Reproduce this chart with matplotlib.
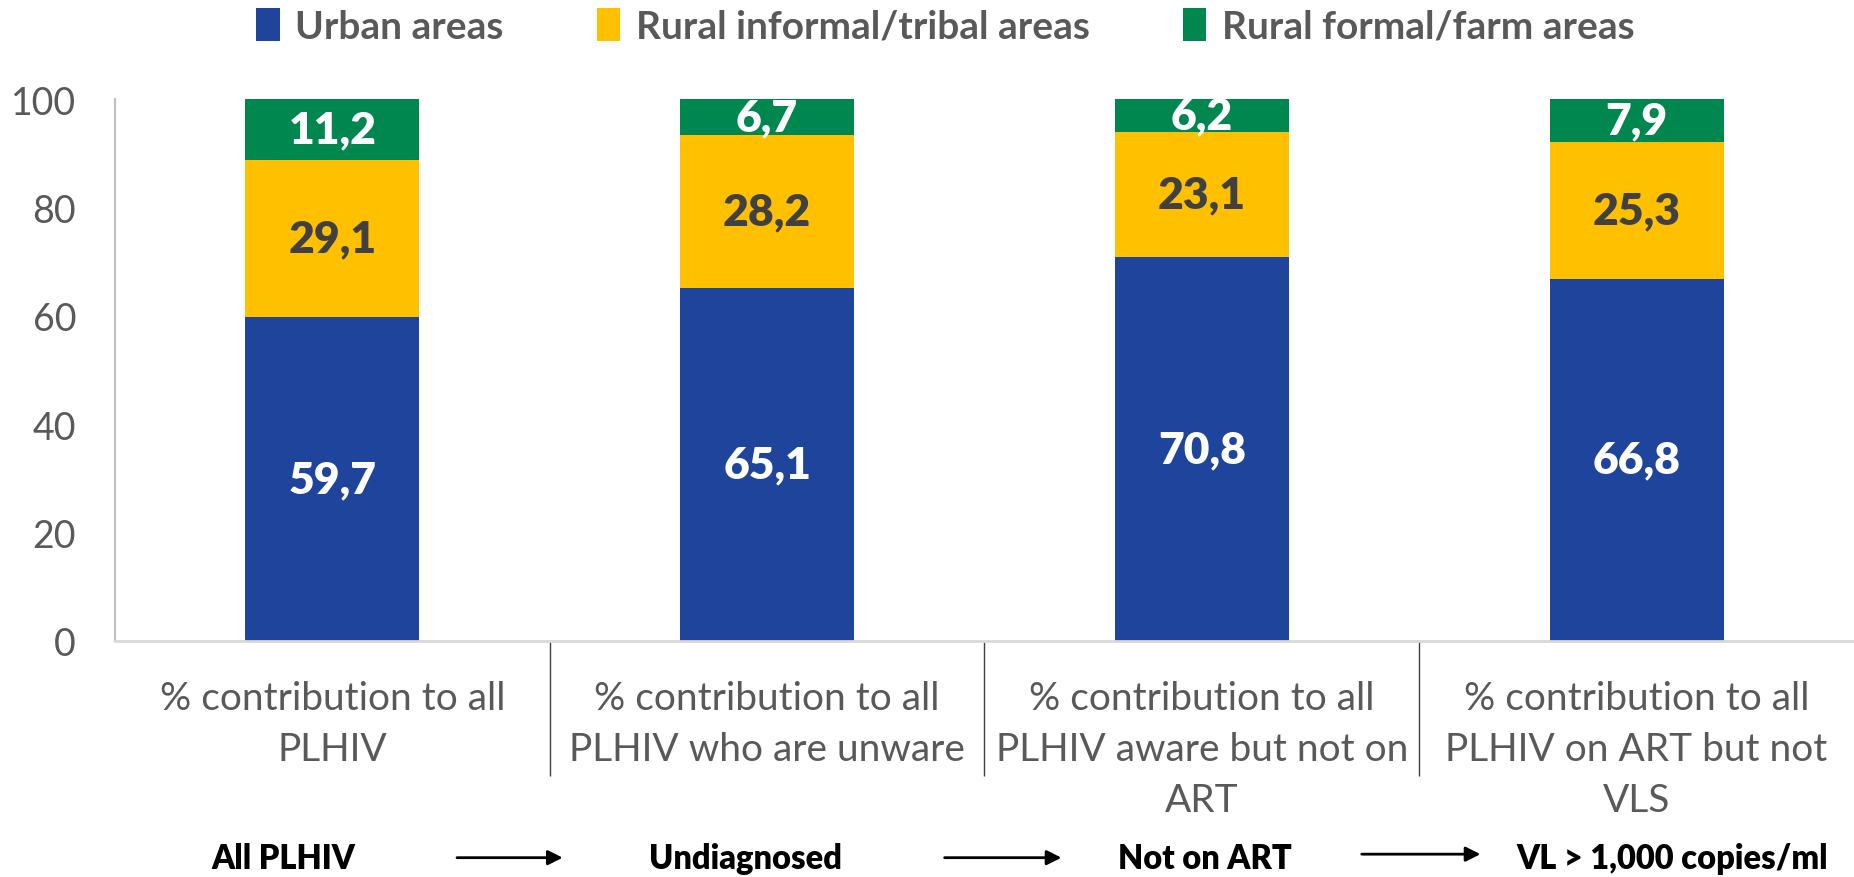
import numpy as np
import matplotlib.pyplot as plt
from matplotlib.patches import Patch, FancyArrowPatch

# <============DATA============>#

categories = ['% contribution to all\nPLHIV',
              '% contribution to all\nPLHIV who are unware',
              '% contribution to all\nPLHIV aware but not on\nART',
              '% contribution to all\nPLHIV on ART but not\nVLS']
urban = [59.7, 65.1, 70.8, 66.8]
rural_informal = [29.1, 28.2, 23.1, 25.3]
rural_formal = [11.2, 6.7, 6.2, 7.9]
series_names = ['Urban areas', 'Rural informal/tribal areas', 'Rural formal/farm areas']
stages = ['All PLHIV', 'Undiagnosed', 'Not on ART', 'VL > 1,000 copies/ml']

# <============STYLE============>#

plt.rcParams['font.family'] = ['Lato', 'DejaVu Sans']
colors = ['#1F449B', '#FFC000', '#00874F']
label_colors = ['white', '#404040', 'white']
grey = '#595959'

fig = plt.figure(figsize=(18.54, 8.78), dpi=100)
ax = fig.add_axes([0.062, 0.269, 0.938, 0.617])

x = np.arange(len(categories))
bottom = np.zeros(len(categories))
for vals, col, lcol, name in zip([urban, rural_informal, rural_formal],
                                 colors, label_colors, series_names):
    bars = ax.bar(x, vals, width=0.40, bottom=bottom, color=col, label=name)
    ax.bar_label(bars, labels=[f'{v:.1f}'.replace('.', ',') for v in vals],
                 label_type='center', color=lcol, fontsize=32, fontweight='heavy')
    bottom += np.array(vals)

ax.set_xlim(-0.5, 3.5)
ax.set_ylim(0, 100)
ax.set_yticks([0, 20, 40, 60, 80, 100])
ax.tick_params(axis='y', length=0, labelsize=27, labelcolor=grey, pad=28)
ax.set_xticks(x)
ax.set_xticklabels(categories, fontsize=28, color=grey, linespacing=1.52)
ax.tick_params(axis='x', which='major', length=0, pad=28)
# category separators
ax.set_xticks([0.5, 1.5, 2.5], minor=True)
ax.tick_params(axis='x', which='minor', length=97, width=1, color='#404040')

for s in ['top', 'right']:
    ax.spines[s].set_visible(False)
ax.spines['left'].set_color('#BFBFBF')
ax.spines['left'].set_linewidth(1.5)
ax.spines['bottom'].set_color('#D9D9D9')
ax.spines['bottom'].set_linewidth(2)

# legend
handles = [Patch(facecolor=c) for c in colors]
fig.legend(handles, series_names, loc='center', bbox_to_anchor=(0.51, 0.969),
           ncol=3, frameon=False, handlelength=0.6, handleheight=0.9,
           handletextpad=0.4, columnspacing=2.4,
           prop={'size': 28, 'weight': 'bold'}, labelcolor=grey)

# cascade stages along the bottom
stage_x = [0.153, 0.402, 0.650, 0.902]
for sx, txt in zip(stage_x, stages):
    fig.text(sx, 0.022, txt, ha='center', va='center', fontsize=23.5,
             fontweight='heavy', color='black')

arrows = [(0.245, 0.305, 0.022), (0.508, 0.574, 0.022), (0.733, 0.800, 0.026)]
for x0, x1, y in arrows:
    fig.add_artist(FancyArrowPatch(
        (x0, y), (x1, y), transform=fig.transFigure, arrowstyle='-|>',
        mutation_scale=22, lw=2, color='black'))

plt.savefig('out.png', dpi=100)
